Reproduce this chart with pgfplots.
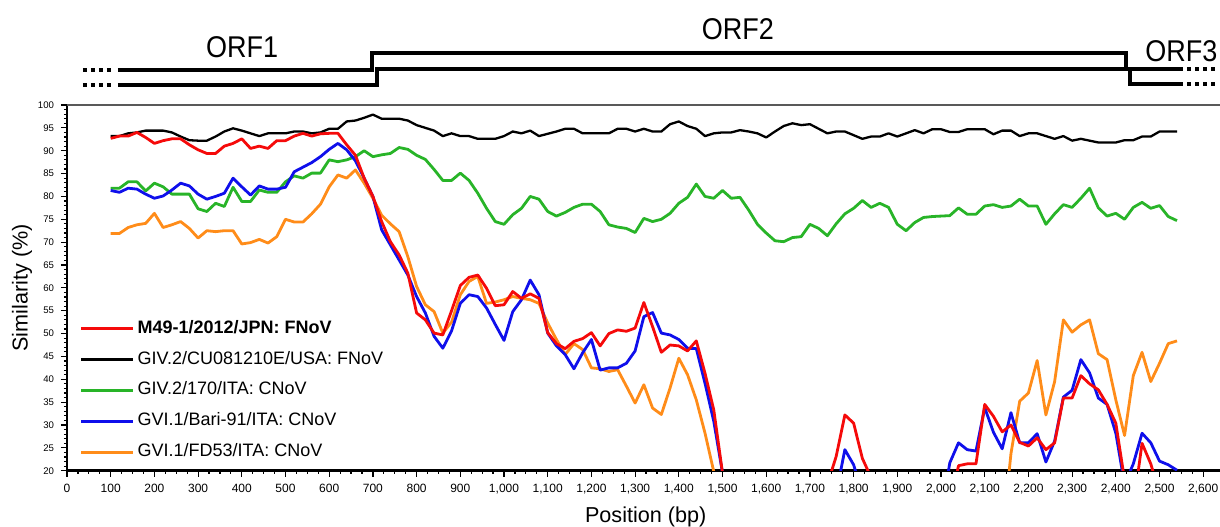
\documentclass[border=0pt]{standalone}
\usepackage{pgfplots}
\pgfplotsset{compat=1.18}
\usepackage{fontspec}
\setmainfont{Liberation Sans}

\definecolor{cRed}{RGB}{245,10,10}
\definecolor{cBlue}{RGB}{15,15,235}
\definecolor{cGreen}{RGB}{40,180,40}
\definecolor{cOrange}{RGB}{255,140,25}

\begin{document}
\begin{tikzpicture}
\begin{axis}[
  name=ax,
  scale only axis,
  width=581pt, height=182.85pt,
  xmin=0, xmax=2659, ymin=20, ymax=100,
  axis x line*=bottom, axis y line*=left,
  x axis line style={line width=1.3pt,-},
  y axis line style={line width=1pt,-},
  xtick={0,100,...,2600}, ytick={20,25,...,100},
  minor x tick num=3, minor y tick num=4,
  tick align=outside,
  major tick length=3pt, minor tick length=1.6pt,
  tick style={black, line width=0.6pt},
  /pgf/number format/assume math mode=true,
  x tick label style={font=\fontsize{6}{7}\selectfont, /pgf/number format/1000 sep={,}},
  y tick label style={font=\fontsize{4.8}{6}\selectfont},
  xlabel={Position (bp)}, ylabel={Similarity (\%)},
  label style={font=\fontsize{10.8}{13}\selectfont},
  xlabel style={at={(axis description cs:0.498,-0.126)}, anchor=center},
  ylabel style={at={(axis description cs:-0.0387,0.5)}, anchor=center},
  clip mode=individual,
  legend style={at={(0.0054,0.432)}, anchor=north west, draw=none, fill=none,
    font=\fontsize{9}{11}\selectfont, row sep=4.15pt,
    nodes={inner sep=1.5pt, text height=6.5pt, text depth=1.8pt}},
  legend cell align=left,
  legend image code/.code={\draw[#1, line width=1.5pt] (0pt,0pt) -- (26pt,0pt);},
  every axis plot/.append style={line join=round},
]
\addlegendimage{cRed}
\addlegendentry{\textbf{M49-1/2012/JPN: FNoV}}
\addlegendimage{black}
\addlegendentry{GIV.2/CU081210E/USA: FNoV}
\addlegendimage{cGreen}
\addlegendentry{GIV.2/170/ITA: CNoV}
\addlegendimage{cBlue}
\addlegendentry{GVI.1/Bari-91/ITA: CNoV}
\addlegendimage{cOrange}
\addlegendentry{GVI.1/FD53/ITA: CNoV}

% orange
\addplot[cOrange, line width=1.4pt, forget plot] coordinates {
(100,71.9)(120,71.9)(140,73.2)(160,73.8)(180,74.1)(200,76.3)(220,73.2)(240,73.8)(260,74.5)(280,73.0)
(300,70.9)(320,72.5)(340,72.3)(360,72.5)(380,72.5)(400,69.6)(420,69.9)(440,70.6)(460,69.8)(480,71.2)
(500,75.0)(520,74.4)(540,74.4)(560,76.2)(580,78.3)(600,82.1)(620,84.7)(640,84.0)(660,85.8)(680,82.9)
(700,79.6)(720,75.9)(740,74.0)(760,72.3)(780,66.8)(800,60.3)(820,56.3)(840,54.8)(860,50.1)(880,52.5)
(900,58.5)(920,61.4)(940,62.5)(960,56.6)(980,56.9)(1000,57.4)(1020,58.1)(1040,57.7)(1060,57.4)(1080,56.6)
(1100,52.3)(1120,48.7)(1140,45.4)(1160,47.8)(1180,46.5)(1200,42.5)(1220,42.3)(1240,41.7)(1260,42.1)(1280,38.5)
(1300,34.8)(1320,38.8)(1340,33.7)(1360,32.3)(1380,38.1)(1400,44.6)(1420,41.0)(1440,35.5)(1460,28.2)(1480,19.8)
(1500,5)(2140,5)(2160,23.7)(2180,35.2)(2200,37.0)(2220,44.1)(2240,32.2)(2260,39.5)(2280,53.0)(2300,50.3)
(2320,51.9)(2340,53.0)(2360,45.6)(2380,44.3)(2400,35.5)(2420,27.7)(2440,40.8)(2460,45.9)(2480,39.5)(2500,43.5)
(2520,47.8)(2540,48.4)
};
% green
\addplot[cGreen, line width=1.4pt, forget plot] coordinates {
(100,81.8)(120,81.8)(140,83.2)(160,83.2)(180,81.2)(200,82.9)(220,82.1)(240,80.5)(260,80.5)(280,80.5)
(300,77.3)(320,76.7)(340,78.5)(360,77.8)(380,82.0)(400,78.9)(420,78.9)(440,81.4)(460,80.9)(480,80.9)
(500,83.2)(520,84.5)(540,84.0)(560,85.1)(580,85.1)(600,88.0)(620,87.6)(640,88.0)(660,88.7)(680,90.0)
(700,88.7)(720,89.1)(740,89.4)(760,90.7)(780,90.3)(800,89.0)(820,88.1)(840,85.9)(860,83.5)(880,83.5)
(900,85.1)(920,83.5)(940,80.7)(960,77.4)(980,74.5)(1000,73.9)(1020,76.0)(1040,77.4)(1060,80.0)(1080,79.4)
(1100,76.7)(1120,75.7)(1140,76.5)(1160,77.6)(1180,78.3)(1200,78.3)(1220,76.7)(1240,73.8)(1260,73.3)(1280,73.0)
(1300,72.1)(1320,75.2)(1340,74.5)(1360,75.0)(1380,76.3)(1400,78.5)(1420,79.8)(1440,82.7)(1460,80.0)(1480,79.6)
(1500,81.3)(1520,79.6)(1540,79.8)(1560,77.0)(1580,73.9)(1600,72.0)(1620,70.3)(1640,70.1)(1660,71.0)(1680,71.2)
(1700,73.9)(1720,73.0)(1740,71.4)(1760,74.0)(1780,76.2)(1800,77.4)(1820,79.1)(1840,77.6)(1860,78.5)(1880,77.6)
(1900,73.9)(1920,72.5)(1940,74.3)(1960,75.4)(1980,75.6)(2000,75.7)(2020,75.8)(2040,77.5)(2060,76.1)(2080,76.1)
(2100,77.9)(2120,78.2)(2140,77.6)(2160,77.9)(2180,79.4)(2200,77.9)(2220,77.9)(2240,73.9)(2260,76.2)(2280,78.2)
(2300,77.6)(2320,79.6)(2340,81.8)(2360,77.5)(2380,75.7)(2400,76.3)(2420,75.0)(2440,77.6)(2460,78.7)(2480,77.4)
(2500,78.0)(2520,75.6)(2540,74.7)
};
% black
\addplot[black, line width=1.15pt, forget plot] coordinates {
(100,93.2)(120,93.2)(140,93.8)(160,94.0)(180,94.4)(200,94.4)(220,94.4)(240,94.0)(260,93.1)(280,92.3)
(300,92.2)(320,92.2)(340,93.1)(360,94.2)(380,94.9)(400,94.4)(420,93.8)(440,93.2)(460,93.8)(480,93.8)
(500,93.8)(520,94.2)(540,94.2)(560,93.8)(580,94.0)(600,94.8)(620,94.8)(640,96.4)(660,96.6)(680,97.2)
(700,97.9)(720,97.0)(740,97.0)(760,97.0)(780,96.6)(800,95.6)(820,95.0)(840,94.4)(860,93.2)(880,93.8)
(900,93.2)(920,93.2)(940,92.6)(960,92.6)(980,92.6)(1000,93.2)(1020,94.2)(1040,93.8)(1060,94.4)(1080,93.2)
(1100,93.7)(1120,94.2)(1140,94.8)(1160,94.8)(1180,93.8)(1200,93.8)(1220,93.8)(1240,93.8)(1260,94.8)(1280,94.8)
(1300,94.2)(1320,94.8)(1340,94.2)(1360,94.2)(1380,95.8)(1400,96.4)(1420,95.4)(1440,94.8)(1460,93.2)(1480,93.8)
(1500,94.0)(1520,94.0)(1540,94.5)(1560,94.2)(1580,93.8)(1600,92.9)(1620,94.2)(1640,95.4)(1660,96.0)(1680,95.6)
(1700,95.8)(1720,94.8)(1740,93.8)(1760,94.2)(1780,94.2)(1800,93.4)(1820,92.6)(1840,93.1)(1860,93.1)(1880,93.8)
(1900,93.1)(1920,93.8)(1940,94.5)(1960,93.8)(1980,94.7)(2000,94.7)(2020,94.1)(2040,94.1)(2060,94.7)(2080,94.7)
(2100,94.7)(2120,93.6)(2140,94.4)(2160,94.4)(2180,93.2)(2200,93.8)(2220,93.8)(2240,93.2)(2260,92.6)(2280,93.2)
(2300,92.2)(2320,92.6)(2340,92.2)(2360,91.8)(2380,91.8)(2400,91.8)(2420,92.3)(2440,92.3)(2460,93.1)(2480,93.1)
(2500,94.2)(2520,94.2)(2540,94.2)
};
% blue
\addplot[cBlue, line width=1.4pt, forget plot] coordinates {
(100,81.3)(120,80.9)(140,81.8)(160,81.6)(180,80.5)(200,79.6)(220,80.1)(240,81.4)(260,82.9)(280,82.3)
(300,80.5)(320,79.4)(340,80.0)(360,80.7)(380,84.0)(400,82.1)(420,80.3)(440,82.3)(460,81.6)(480,81.6)
(500,82.0)(520,85.4)(540,86.4)(560,87.4)(580,88.7)(600,90.3)(620,91.6)(640,90.2)(660,87.8)(680,84.0)
(700,80.0)(720,72.7)(740,69.4)(760,66.1)(780,62.8)(800,58.1)(820,54.5)(840,49.4)(860,46.8)(880,50.6)
(900,56.6)(920,58.5)(940,58.1)(960,55.6)(980,52.0)(1000,48.5)(1020,54.8)(1040,57.4)(1060,61.7)(1080,58.5)
(1100,50.1)(1120,47.3)(1140,45.4)(1160,42.3)(1180,45.8)(1200,48.7)(1220,42.0)(1240,42.5)(1260,42.5)(1280,43.5)
(1300,46.2)(1320,53.7)(1340,54.6)(1360,50.1)(1380,49.7)(1400,48.7)(1420,46.8)(1440,46.7)(1460,39.1)(1480,30.8)
(1500,19.5)(1520,5)(1740,5)(1760,15)(1780,24.6)(1800,21.3)(1820,15)(1840,5)(1980,5)(2000,10)
(2020,21.7)(2040,26.1)(2060,24.6)(2080,24.3)(2100,33.8)(2120,28.4)(2140,24.8)(2160,32.7)(2180,26.1)(2200,26.1)
(2220,28.1)(2240,21.9)(2260,26.5)(2280,36.1)(2300,37.6)(2320,44.3)(2340,41.4)(2360,35.9)(2380,34.5)(2400,28.2)
(2420,17)(2440,21.5)(2460,28.2)(2480,26.1)(2500,22.1)(2520,21.3)(2540,20.1)
};
% red
\addplot[cRed, line width=1.4pt, forget plot] coordinates {
(100,92.7)(120,93.2)(140,93.2)(160,94.0)(180,92.9)(200,91.6)(220,92.2)(240,92.6)(260,92.6)(280,91.3)
(300,90.2)(320,89.4)(340,89.4)(360,91.0)(380,91.6)(400,92.6)(420,90.5)(440,91.0)(460,90.5)(480,92.2)
(500,92.2)(520,93.2)(540,93.8)(560,93.2)(580,93.7)(600,93.8)(620,93.8)(640,91.3)(660,89.0)(680,84.0)
(700,80.0)(720,74.5)(740,70.1)(760,67.2)(780,63.2)(800,54.5)(820,53.0)(840,50.1)(860,49.7)(880,55.0)
(900,60.5)(920,62.3)(940,62.8)(960,59.9)(980,56.1)(1000,56.3)(1020,59.2)(1040,57.7)(1060,58.7)(1080,57.7)
(1100,50.2)(1120,47.8)(1140,46.7)(1160,48.3)(1180,48.9)(1200,50.2)(1220,47.3)(1240,50.0)(1260,50.8)(1280,50.5)
(1300,51.2)(1320,56.8)(1340,51.5)(1360,45.9)(1380,47.5)(1400,47.3)(1420,46.2)(1440,48.4)(1460,41.3)(1480,33.3)
(1500,19.5)(1520,5)(1720,5)(1740,17)(1760,23.1)(1780,32.2)(1800,30.4)(1820,22.7)(1840,18.5)(1860,5)
(2000,5)(2020,12)(2040,21.1)(2060,21.5)(2080,21.5)(2100,34.5)(2120,31.9)(2140,28.5)(2160,30.0)(2180,26.2)
(2200,25.4)(2220,27.2)(2240,24.6)(2260,26.1)(2280,35.9)(2300,35.9)(2320,40.8)(2340,39.0)(2360,37.7)(2380,34.5)
(2400,30.4)(2420,18)(2440,12)(2460,26)(2480,21.5)(2500,15)(2520,5)(2540,5)
};

% top frame line
\draw[black!65, line width=0.7pt] (rel axis cs:0,1) -- (rel axis cs:1,1);

% ORF map above the plot
\draw[line width=2pt] (axis cs:116.7,107.65) -- (axis cs:697.9,107.65) -- (axis cs:697.9,111.37)
  -- (axis cs:2423.3,111.37) -- (axis cs:2423.3,107.87) -- (axis cs:2553.8,107.87);
\draw[line width=2pt] (axis cs:116.7,104.37) -- (axis cs:709.4,104.37) -- (axis cs:709.4,107.87)
  -- (axis cs:2432.5,107.87) -- (axis cs:2432.5,104.59) -- (axis cs:2553.8,104.59);
\draw[line width=2pt, dash pattern=on 2.2pt off 1.8pt] (axis cs:36.6,107.65) -- (axis cs:105.3,107.65);
\draw[line width=2pt, dash pattern=on 2.2pt off 1.8pt] (axis cs:36.6,104.37) -- (axis cs:105.3,104.37);
\draw[line width=2pt, dash pattern=on 2.2pt off 1.8pt] (axis cs:2563,107.87) -- (axis cs:2632,107.87);
\draw[line width=2pt, dash pattern=on 2.2pt off 1.8pt] (axis cs:2563,104.59) -- (axis cs:2632,104.59);
\node[font=\fontsize{15}{18}\selectfont, xscale=0.9] at (axis cs:400.5,112.6) {ORF1};
\node[font=\fontsize{15}{18}\selectfont, xscale=0.9] at (axis cs:1535,116.5) {ORF2};
\node[font=\fontsize{15}{18}\selectfont, xscale=0.9, anchor=west, inner xsep=0pt] at (axis cs:2467,111.8) {ORF3};
\end{axis}
\pgfresetboundingbox
\path[use as bounding box] ([shift={(-33.5pt,-27.65pt)}]ax.south west) rectangle ([shift={(576.5pt,235.35pt)}]ax.south west);
\end{tikzpicture}
\end{document}
